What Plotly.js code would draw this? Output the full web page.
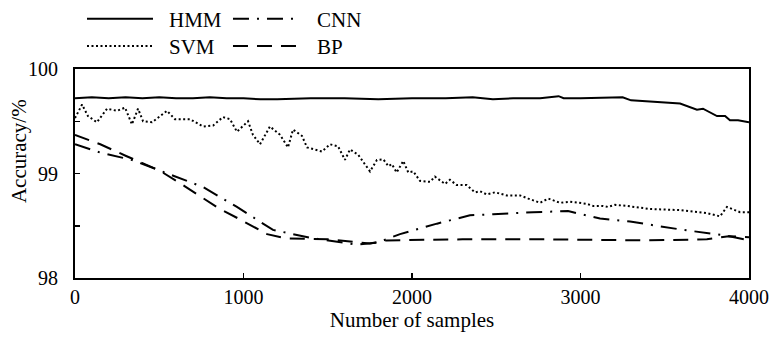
<!DOCTYPE html>
<html>
<head>
<meta charset="utf-8">
<script src="https://cdn.plot.ly/plotly-3.0.1.min.js"></script>
<style>html,body{margin:0;padding:0;background:#fff;}#chart{width:771px;height:339px;}</style>
</head>
<body>
<div id="chart"></div>
<script>
// ---- data ----
var seriesNames = ["HMM", "SVM", "CNN", "BP"];

var hmmX = [0,100,200,300,400,500,600,700,800,900,1000,1100,1200,1400,1600,1800,2000,2200,2360,2480,2600,2760,2870,2900,3000,3157,3250,3300,3591,3691,3727,3810,3858,3887,3935,4000];
var hmmY = [99.72,99.73,99.72,99.73,99.72,99.73,99.72,99.72,99.73,99.72,99.72,99.71,99.71,99.72,99.72,99.71,99.72,99.72,99.73,99.71,99.72,99.72,99.74,99.72,99.72,99.73,99.73,99.70,99.67,99.61,99.62,99.55,99.55,99.51,99.51,99.49];

var svmX = [0,42,77,130,190,249,297,338,374,404,457,546,593,682,760,820,878,920,961,1027,1056,1098,1157,1217,1264,1294,1347,1377,1466,1513,1561,1602,1632,1680,1751,1792,1830,1860,1880,1909,1948,1978,2008,2047,2107,2136,2196,2225,2265,2324,2374,2404,2443,2493,2562,2641,2690,2760,2809,2878,2938,2997,3037,3075,3134,3163,3205,3274,3413,3591,3751,3828,3869,3947,4000];
var svmY = [99.53,99.66,99.55,99.49,99.62,99.60,99.63,99.47,99.62,99.50,99.49,99.60,99.52,99.52,99.45,99.46,99.54,99.52,99.40,99.50,99.37,99.28,99.45,99.37,99.25,99.42,99.36,99.25,99.21,99.28,99.26,99.13,99.23,99.18,99.02,99.13,99.135,99.07,99.09,99.01,99.12,99.01,99.02,98.93,98.92,98.97,98.90,98.94,98.89,98.89,98.82,98.83,98.80,98.82,98.79,98.79,98.76,98.72,98.76,98.72,98.73,98.72,98.71,98.69,98.69,98.68,98.70,98.69,98.66,98.65,98.62,98.59,98.68,98.63,98.63];

var cnnX = [0,150,338,546,760,961,1175,1412,1673,1798,1929,2148,2344,2481,2718,2926,3116,3294,3610,3850,4000];
var cnnY = [99.28,99.20,99.13,99.00,98.87,98.68,98.46,98.38,98.32,98.34,98.42,98.52,98.60,98.61,98.63,98.64,98.57,98.54,98.46,98.41,98.36];

var bpX = [0,150,300,500,650,850,980,1140,1250,1500,1750,1850,2300,2800,3400,3750,3880,4000];
var bpY = [99.37,99.28,99.17,99.03,98.88,98.67,98.56,98.42,98.38,98.37,98.33,98.36,98.37,98.37,98.36,98.37,98.40,98.39];

var xTicks = [0,1000,2000,3000,4000];
var yTicks = [98,98.5,99,99.5,100];
var yTickText = ["98","","99","","100"];

var FONT = "Liberation Serif, Times New Roman, serif";
var FS = 21;
var dashes = ["solid", "2px,2.5px", "16px,8px,2px,8px", "15px,9px"];

var traces = [
  {x: hmmX, y: hmmY, name: seriesNames[0], mode: "lines", line: {color: "#000", width: 2, dash: dashes[0]}},
  {x: svmX, y: svmY, name: seriesNames[1], mode: "lines", line: {color: "#000", width: 2, dash: dashes[1]}},
  {x: cnnX, y: cnnY, name: seriesNames[2], mode: "lines", line: {color: "#000", width: 2, dash: dashes[2]}},
  {x: bpX, y: bpY, name: seriesNames[3], mode: "lines", line: {color: "#000", width: 2, dash: dashes[3]}}
];

// legend drawn as key lines + labels above the plot (two columns)
var keyPos = [
  {x0: 0.0178, x1: 0.1157, y: 1.2404, tx: 0.1365, ty: 1.2356},
  {x0: 0.0178, x1: 0.1157, y: 1.1106, tx: 0.1365, ty: 1.1058},
  {x0: 0.2344, x1: 0.3279, y: 1.2404, tx: 0.3561, ty: 1.2356},
  {x0: 0.2344, x1: 0.3279, y: 1.1106, tx: 0.3561, ty: 1.1058}
];
var shapes = [], annotations = [];
for (var i = 0; i < seriesNames.length; i++) {
  var k = keyPos[i];
  shapes.push({type: "line", xref: "paper", yref: "paper", x0: k.x0, x1: k.x1, y0: k.y, y1: k.y,
               line: {color: "#000", width: 2, dash: dashes[i]}});
  annotations.push({text: seriesNames[i], showarrow: false, xref: "paper", yref: "paper",
                    x: k.tx, y: k.ty, xanchor: "left", yanchor: "middle",
                    font: {family: FONT, size: FS, color: "#000"}});
}
annotations.push({
  text: "Accuracy/%", textangle: -90, showarrow: false,
  xref: "paper", yref: "paper", x: -0.082, y: 0.606,
  xanchor: "center", yanchor: "middle",
  font: {family: FONT, size: FS, color: "#000"}
});

var layout = {
  width: 771, height: 339,
  margin: {l: 75, r: 22, t: 69, b: 61},
  paper_bgcolor: "#fff", plot_bgcolor: "#fff",
  showlegend: false,
  font: {family: FONT, size: FS, color: "#000"},
  xaxis: {
    range: [0, 4000], tickvals: xTicks, ticktext: xTicks.map(String),
    ticks: "inside", ticklen: 5, tickwidth: 1.5, tickcolor: "#000",
    showline: true, linecolor: "#000", linewidth: 2, mirror: true,
    showgrid: false, zeroline: false,
    tickfont: {family: FONT, size: 20, color: "#000"},
    title: {text: "Number of samples", font: {family: FONT, size: FS, color: "#000"}, standoff: 0}
  },
  yaxis: {
    range: [98, 100], tickvals: yTicks, ticktext: yTickText,
    ticks: "inside", ticklen: 5, tickwidth: 1.5, tickcolor: "#000",
    showline: true, linecolor: "#000", linewidth: 2, mirror: true,
    showgrid: false, zeroline: false,
    ticklabelstandoff: 11,
    tickfont: {family: FONT, size: 20, color: "#000"}
  },
  shapes: shapes,
  annotations: annotations
};

Plotly.newPlot("chart", traces, layout, {displayModeBar: false, staticPlot: true});
</script>
</body>
</html>
